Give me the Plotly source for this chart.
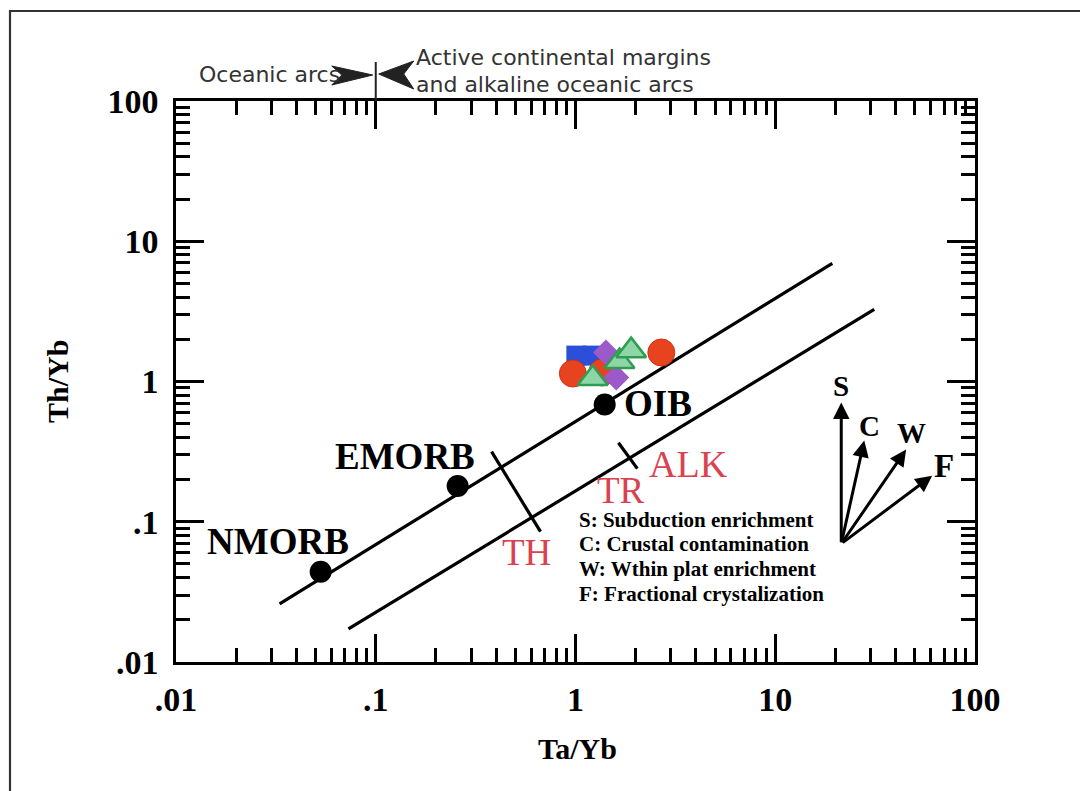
import numpy as np
import plotly.graph_objects as go

# ---- reference compositions (Ta/Yb, Th/Yb) ----
ref_names = ["NMORB", "EMORB", "OIB"]
ref_ta_yb = [0.053, 0.257, 1.40]
ref_th_yb = [0.044, 0.18, 0.686]

# ---- MORB-OIB mantle array boundaries ----
upper_ta_yb = [0.033, 19.3]
upper_th_yb = [0.026, 6.96]
lower_ta_yb = [0.073, 31.3]
lower_th_yb = [0.0172, 3.27]

# ---- TH / TR and TR / ALK dividers ----
th_tr_ta_yb = [0.38, 0.668]
th_tr_th_yb = [0.316, 0.085]
tr_alk_ta_yb = [1.64, 2.04]
tr_alk_th_yb = [0.366, 0.239]

# ---- samples ----
blue_ta_yb = [1.01, 1.22]
blue_th_yb = [1.53, 1.53]
red_ta_yb = [0.97, 1.36, 2.69]
red_th_yb = [1.14, 1.16, 1.61]
purple_ta_yb = [1.60, 1.42]
purple_th_yb = [1.07, 1.61]
green_ta_yb = [1.22, 1.66, 1.90]
green_th_yb = [1.05, 1.39, 1.66]

# ---- axis ticks ----
tick_vals = [0.01, 0.1, 1, 10, 100]
tick_text = [".01", ".1", "1", "10", "100"]

W, H = 1080, 791
ML, MR, MT, MB = 176, 105, 101, 129
PW, PH = W - ML - MR, H - MT - MB

SERIF = "Liberation Serif"
SANS = "DejaVu Sans"
RED = "#d9434f"


def paper_x(px):
    return (px - ML) / PW


def paper_y(py):
    return (H - MB - py) / PH


fig = go.Figure()

for xs, ys in [(upper_ta_yb, upper_th_yb), (lower_ta_yb, lower_th_yb),
               (th_tr_ta_yb, th_tr_th_yb), (tr_alk_ta_yb, tr_alk_th_yb)]:
    fig.add_trace(go.Scatter(x=xs, y=ys, mode="lines",
                             line=dict(color="black", width=3.2),
                             hoverinfo="skip", showlegend=False))

fig.add_trace(go.Scatter(x=ref_ta_yb, y=ref_th_yb, mode="markers",
                         marker=dict(color="black", size=22),
                         text=ref_names, showlegend=False))

fig.add_trace(go.Scatter(x=blue_ta_yb, y=blue_th_yb, mode="markers",
                         marker=dict(symbol="square", size=20, color="#2b4fd8",
                                     line=dict(width=0)), showlegend=False))
fig.add_trace(go.Scatter(x=red_ta_yb, y=red_th_yb, mode="markers",
                         marker=dict(symbol="circle", size=27, color="#e8431f",
                                     line=dict(width=1, color="#d03010")),
                         showlegend=False))
fig.add_trace(go.Scatter(x=purple_ta_yb, y=purple_th_yb, mode="markers",
                         marker=dict(symbol="diamond", size=20, color="#9b59c9",
                                     line=dict(width=0)), showlegend=False))
fig.add_trace(go.Scatter(x=green_ta_yb, y=green_th_yb, mode="markers",
                         marker=dict(symbol="triangle-up", size=26, color="#8fd6a6",
                                     line=dict(width=2.5, color="#2e9e55")),
                         showlegend=False))

annotations = []


def data_label(text, x, y, size, color="black", bold=True, xanchor="center"):
    annotations.append(dict(
        x=np.log10(x), y=np.log10(y), xref="x", yref="y", text=text,
        showarrow=False, xanchor=xanchor, yanchor="middle",
        font=dict(family=SERIF, size=size, color=color,
                  weight="bold" if bold else "normal")))


def paper_label(text, px, py, font, xanchor="center", angle=0):
    annotations.append(dict(
        x=paper_x(px), y=paper_y(py), xref="paper", yref="paper", text=text,
        showarrow=False, xanchor=xanchor, yanchor="middle", textangle=angle,
        font=font))


data_label("NMORB", 0.0324, 0.072, 37)
data_label("EMORB", 0.140, 0.291, 37)
data_label("OIB", 2.60, 0.697, 37)
data_label("ALK", 3.67, 0.259, 38, RED, bold=False)
data_label("TR", 1.68, 0.166, 37, RED, bold=False)
data_label("TH", 0.569, 0.060, 37, RED, bold=False)

legend_lines = ["S: Subduction enrichment", "C: Crustal contamination",
                "W: Wthin plat enrichment", "F: Fractional crystalization"]
legend_th_yb = [0.103, 0.0697, 0.0461, 0.0306]
for line, ly in zip(legend_lines, legend_th_yb):
    data_label(line, 1.02, ly, 21, xanchor="left")

# vector arrows
origin = (21.4, 0.0697)
vectors = [("S", 21.4, 0.708, 21.4, 0.935, 29),
           ("C", 27.9, 0.379, 29.5, 0.485, 29),
           ("W", 45.2, 0.327, 47.9, 0.426, 29),
           ("F", 61.0, 0.213, 70.0, 0.251, 33)]
for lab, tx, ty, lx, ly, fs in vectors:
    annotations.append(dict(
        x=np.log10(tx), y=np.log10(ty), ax=np.log10(origin[0]),
        ay=np.log10(origin[1]), xref="x", yref="y", axref="x", ayref="y",
        text="", showarrow=True, arrowhead=2, arrowsize=1.1, arrowwidth=3,
        arrowcolor="black"))
    data_label(lab, lx, ly, fs)

# axis titles
title_font = dict(family=SERIF, size=30, color="black", weight="bold")
paper_label("Ta/Yb", 577, 748, title_font)
paper_label("Th/Yb", 57, 382, title_font, angle=-90)

# arc-setting labels above the plot
top_font = dict(family=SANS, size=22, color="#333333")
paper_label("Oceanic arcs", 342, 75, top_font, xanchor="right")
paper_label("Active continental margins", 414, 57, top_font, xanchor="left")
paper_label("and alkaline oceanic arcs", 414, 84, top_font, xanchor="left")

x_div = (np.log10(0.1) + 2) / 4
shapes = [
    # outer frame
    dict(type="rect", xref="paper", yref="paper",
         x0=paper_x(10), x1=paper_x(1200), y0=paper_y(900), y1=paper_y(11),
         line=dict(color="#333333", width=2.2), fillcolor="rgba(0,0,0,0)",
         layer="below"),
    # divider above the 0.1 tick
    dict(type="line", xref="paper", yref="paper", xsizemode="pixel",
         ysizemode="pixel", xanchor=x_div, yanchor=1,
         x0=0, x1=0, y0=0, y1=39, line=dict(color="#222222", width=2)),
    # arrowheads
    dict(type="path", xref="paper", yref="paper", xsizemode="pixel",
         ysizemode="pixel", xanchor=x_div, yanchor=1,
         path="M -3,26 L -44,35 L -34,26 L -44,16 Z",
         fillcolor="#222222", line=dict(color="#222222", width=1)),
    dict(type="path", xref="paper", yref="paper", xsizemode="pixel",
         ysizemode="pixel", xanchor=x_div, yanchor=1,
         path="M 3,27 L 38,40 L 28,27 L 38,12 Z",
         fillcolor="#222222", line=dict(color="#222222", width=1)),
]

axis_common = dict(
    type="log", range=[-2, 2], tickvals=tick_vals, ticktext=tick_text,
    ticks="inside", ticklen=28, tickwidth=2.5, tickcolor="black",
    showline=True, linecolor="black", linewidth=2.5, mirror="allticks",
    showgrid=False, zeroline=False,
    tickfont=dict(family=SERIF, size=34, color="black", weight="bold"),
    minor=dict(ticks="inside", ticklen=14, tickwidth=2.5, tickcolor="black",
               dtick="D1", showgrid=False),
)

fig.update_layout(
    width=W, height=H,
    margin=dict(l=ML, r=MR, t=MT, b=MB),
    paper_bgcolor="white", plot_bgcolor="white",
    xaxis=dict(**axis_common, ticklabelstandoff=5),
    yaxis=dict(**axis_common, ticklabelstandoff=8),
    annotations=annotations, shapes=shapes, showlegend=False,
)

fig.write_html("out.html")
